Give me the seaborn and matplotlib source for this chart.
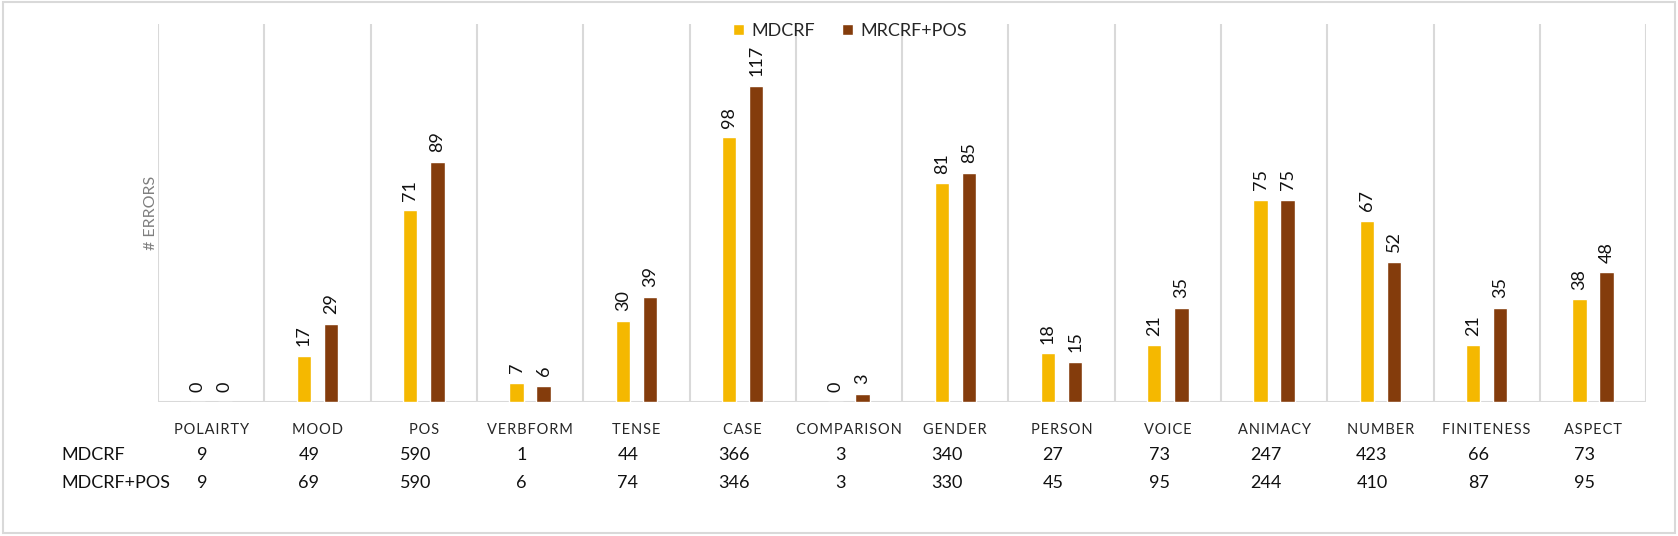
import matplotlib
matplotlib.use("Agg")
import pandas as pd
import seaborn as sns
from matplotlib import pyplot as plt
from matplotlib.patches import Rectangle

# data
categories = ["POLAIRTY", "MOOD", "POS", "VERBFORM", "TENSE", "CASE", "COMPARISON",
              "GENDER", "PERSON", "VOICE", "ANIMACY", "NUMBER", "FINITENESS", "ASPECT"]
errors_mdcrf = [0, 17, 71, 7, 30, 98, 0, 81, 18, 21, 75, 67, 21, 38]
errors_pos = [0, 29, 89, 6, 39, 117, 3, 85, 15, 35, 75, 52, 35, 48]
series_names = ["MDCRF", "MRCRF+POS"]
table_rows = ["MDCRF", "MDCRF+POS"]
counts_mdcrf = [9, 49, 590, 1, 44, 366, 3, 340, 27, 73, 247, 423, 66, 73]
counts_pos = [9, 69, 590, 6, 74, 346, 3, 330, 45, 95, 244, 410, 87, 95]

colors = ["#F5B800", "#843C0C"]
grid_col = "#D9D9D9"

sns.set_style("white")
plt.rcParams["font.family"] = ["Lato", "DejaVu Sans"]

df = pd.DataFrame({
    "category": categories * 2,
    "errors": errors_mdcrf + errors_pos,
    "model": [series_names[0]] * len(categories) + [series_names[1]] * len(categories),
})

fig = plt.figure(figsize=(16.78, 5.36), dpi=100)
ax = fig.add_axes([0.0942, 0.25, 0.8868, 0.705])

sns.barplot(data=df, x="category", y="errors", hue="model", palette=colors,
            width=0.51, gap=0.47, saturation=1, ax=ax, errorbar=None)

for cont in ax.containers:
    ax.bar_label(cont, rotation=90, padding=7, fontsize=13, color="#111111")

ax.set_xlim(-0.5, len(categories) - 0.5)
ax.set_ylim(0, 140)
ax.set_yticks([])
for s in ax.spines.values():
    s.set_visible(False)
ax.axhline(0, color=grid_col, lw=1.5, zorder=0.5)
for b in range(len(categories) + 1):
    ax.axvline(b - 0.5, color=grid_col, lw=1.5, zorder=0.5)

spaced = ["\u200a".join(c) for c in categories]
ax.set_xticks(range(len(categories)))
ax.set_xticklabels(spaced, fontsize=10.5, color="#262626")
ax.tick_params(axis="x", length=0, pad=15)
ax.set_xlabel("")
ax.set_ylabel("# ERRORS", fontsize=11.5, color="#7f7f7f")
ax.yaxis.set_label_coords(0.0, 0.5)

ax.legend(loc="center", bbox_to_anchor=(0.465, 0.982), ncol=2, frameon=False,
          fontsize=13, handlelength=0.6, handleheight=0.6, handletextpad=0.4,
          columnspacing=1.5, borderaxespad=0)

# typed table under the chart
xt = ax.get_xaxis_transform()
for i in range(len(categories)):
    ax.text(i - 0.08, -0.140, str(counts_mdcrf[i]), transform=xt, ha="center",
            va="center", fontsize=13, color="#111111", clip_on=False)
    ax.text(i - 0.08, -0.214, str(counts_pos[i]), transform=xt, ha="center",
            va="center", fontsize=13, color="#111111", clip_on=False)
fig.text(0.0364, 0.151, table_rows[0], ha="left", va="center", fontsize=13, color="#111111")
fig.text(0.0364, 0.0989, table_rows[1], ha="left", va="center", fontsize=13, color="#111111")

fig.patches.append(Rectangle((0.002, 0.006), 0.996, 0.99, transform=fig.transFigure,
                             fill=False, edgecolor=grid_col, lw=1.5))

fig.savefig("out.png", dpi=100)
